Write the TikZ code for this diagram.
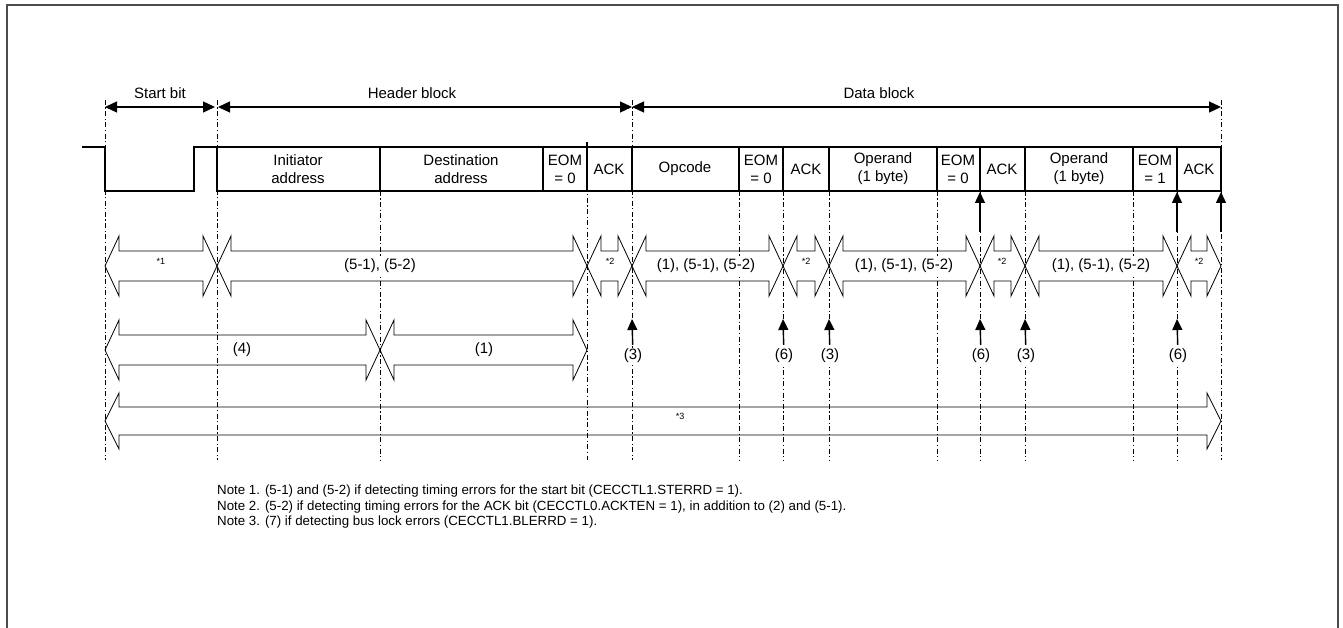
\documentclass[tikz,border=0pt]{standalone}
\usepackage{fontspec}
\setmainfont{Liberation Sans}
\usetikzlibrary{arrows.meta}

\begin{document}
\begin{tikzpicture}[x=1pt,y=-1pt,
  field/.style={font=\fontsize{15}{18}\selectfont,align=center,inner sep=0pt},
  lbl/.style={font=\fontsize{15}{18}\selectfont,inner sep=1pt,fill=white},
  note/.style={font=\fontsize{9}{10}\selectfont,inner sep=0pt},
  timing/.style={line width=0.9pt,dash pattern=on 5pt off 2.5pt on 1.2pt off 2.5pt},
  span/.style={line width=0.8pt},
  blockarr/.style={line width=1.3pt,{Triangle[length=12pt,width=11pt]}-{Triangle[length=12pt,width=11pt]}},
  uparr/.style={line width=1.4pt,-{Triangle[length=11pt,width=10pt]}}]
  \useasboundingbox (0,0) rectangle (1343,628);
  % two-headed span: xa, xb, centre y, half width of shaft
  \def\dblarr#1#2#3#4{%
    \draw[span] (#1,#3) -- (#1+14,#3-2*#4) -- (#1+14,#3-#4) -- (#2-14,#3-#4)
      -- (#2-14,#3-2*#4) -- (#2,#3) -- (#2-14,#3+2*#4) -- (#2-14,#3+#4)
      -- (#1+14,#3+#4) -- (#1+14,#3+2*#4) -- cycle;}

  % Frame
  \draw[line width=1.6pt,black!70] (7,660) -- (7,5) -- (1338,5) -- (1338,660);

  % Timing lines
  \foreach \x in {105,217,632,1221}
    \draw[timing] (\x,100) -- (\x,460);
  \draw[timing] (587,142) -- (587,460);
  \foreach \x in {380,739,783,829,937,980,1025,1133,1177}
    \draw[timing] (\x,191) -- (\x,460);

  % Blocks
  \coordinate (a0) at (105,107);
  \coordinate (a1) at (217,107);
  \coordinate (a2) at (632,107);
  \coordinate (a3) at (1221,107);
  \draw[blockarr,shorten >=2pt] (a0) -- (a1);
  \draw[blockarr,shorten <=1pt] (a1) -- (a2);
  \draw[blockarr] (a2) -- (a3);
  \node[lbl] (startbit) at (160,93) {Start bit};
  \node[lbl] (header) at (412,93) {Header block};
  \node[lbl] (data) at (879,93) {Data block};

  % Signal
  \draw[line width=1.8pt] (82,147) -- (105,147) -- (105,191) -- (194,191) -- (194,147) -- (217,147);
  \draw[line width=1.8pt] (217,147) rectangle (1221,191);
  \foreach \x in {380,543,587,632,739,783,829,937,980,1025,1133,1177}
    \draw[line width=1.8pt] (\x,147) -- (\x,191);
  \draw[line width=1.8pt] (587,142) -- (587,147);

  % Fields
  \node[field] (init) at (298,169) {Initiator\\address};
  \node[field] (dest) at (461,169) {Destination\\address};
  \node[field] (eom1) at (565,169) {EOM\\= 0};
  \node[field] (ack1) at (609,169) {ACK};
  \node[field] (opc) at (685,169) {Opcode};
  \node[field] (eom2) at (761,169) {EOM\\= 0};
  \node[field] (ack2) at (806,169) {ACK};
  \node[field] (opd1) at (883,169) {Operand\\(1 byte)};
  \node[field] (eom3) at (958,169) {EOM\\= 0};
  \node[field] (ack3) at (1002,169) {ACK};
  \node[field] (opd2) at (1079,169) {Operand\\(1 byte)};
  \node[field] (eom4) at (1155,169) {EOM\\= 1};
  \node[field] (ack4) at (1199,169) {ACK};

  % Error checks per bit
  \dblarr{105}{217}{266}{15}
  \dblarr{217}{587}{266}{15}
  \dblarr{587}{632}{266}{15}
  \dblarr{632}{783}{266}{15}
  \dblarr{783}{829}{266}{15}
  \dblarr{829}{980}{266}{15}
  \dblarr{980}{1025}{266}{15}
  \dblarr{1025}{1177}{266}{15}
  \dblarr{1177}{1221}{266}{15}
  \node[note] (n1) at (161,261) {*1};
  \node[lbl] (e51) at (380,266) {(5-1), (5-2)};
  \node[note] (n2a) at (610,261) {*2};
  \node[lbl] (e1a) at (706,266) {(1), (5-1), (5-2)};
  \node[note] (n2b) at (806,261) {*2};
  \node[lbl] (e1b) at (904,266) {(1), (5-1), (5-2)};
  \node[note] (n2c) at (1002,261) {*2};
  \node[lbl] (e1c) at (1101,266) {(1), (5-1), (5-2)};
  \node[note] (n2d) at (1199,261) {*2};

  % Error checks per field
  \dblarr{105}{380}{350}{15}
  \dblarr{380}{587}{350}{15}
  \node[lbl] (e4) at (242,350) {(4)};
  \node[lbl] (e1) at (484,350) {(1)};

  % Bus lock
  \dblarr{105}{1221}{421}{14}
  \node[note] (n3) at (680,416) {*3};

  % Detection points
  \foreach \x/\t/\n in {632/3/ea,783/6/eb,829/3/ec,980/6/ed,1025/3/ee,1177/6/ef} {
    \coordinate (p\n) at (\x,319);
    \node[lbl] (\n) at (\x+1,356) {(\t)};
    \draw[uparr,shorten <=3pt] (\n) -- (p\n);
  }
  \foreach \x/\n in {980/ta,1177/tb,1221/tc} {
    \coordinate (s\n) at (\x,232);
    \coordinate (\n) at (\x,192);
    \draw[uparr] (s\n) -- (\n);
  }

  % Notes
  \begin{scope}[every node/.style={anchor=west,inner sep=0pt,font=\fontsize{13.3}{15}\selectfont}]
    \node (note1) at (217,491) {Note 1. (5-1) and (5-2) if detecting timing errors for the start bit (CECCTL1.STERRD = 1).};
    \node (note2) at (217,507) {Note 2. (5-2) if detecting timing errors for the ACK bit (CECCTL0.ACKTEN = 1), in addition to (2) and (5-1).};
    \node (note3) at (217,522) {Note 3. (7) if detecting bus lock errors (CECCTL1.BLERRD = 1).};
  \end{scope}
\end{tikzpicture}
\end{document}
